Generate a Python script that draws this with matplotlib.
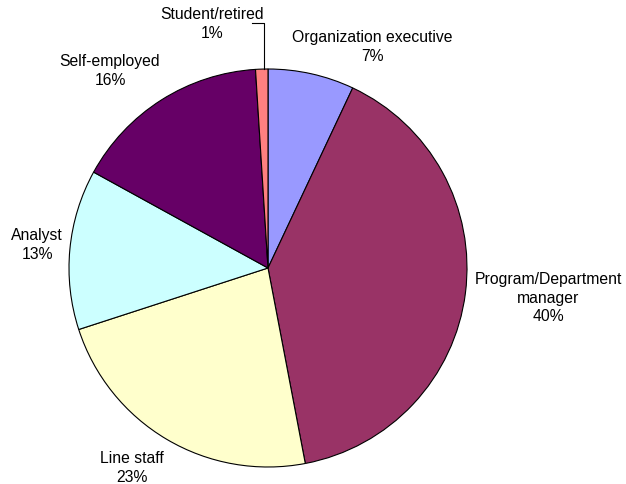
import matplotlib.pyplot as plt

# Respondent roles, clockwise from 12 o'clock
roles = ["Organization executive", "Program/Department\nmanager", "Line staff",
         "Analyst", "Self-employed", "Student/retired"]
shares = [7, 40, 23, 13, 16, 1]
colors = ["#9999FF", "#993366", "#FFFFCC", "#CCFFFF", "#660066", "#FF8080"]

# label anchor points in pixel space (x, y from top)
label_pos = [(372, 47), (548, 298), (132, 468), (37, 245), (110, 71), (212, 24)]

W, H = 626, 485
fig = plt.figure(figsize=(W / 100, H / 100), dpi=100)
ax = fig.add_axes([0, 0, 1, 1])
ax.set_xlim(0, W)
ax.set_ylim(0, H)
ax.set_aspect("equal")
ax.axis("off")

cx, cy, r = 268, H - 269, 199
ax.pie(shares, colors=colors, startangle=90, counterclock=False,
       center=(cx, cy), radius=r, frame=True,
       wedgeprops=dict(edgecolor="black", linewidth=0.8))
ax.set_xlim(0, W)
ax.set_ylim(0, H)
ax.axis("off")

plt.rcParams["font.family"] = ["Liberation Sans", "DejaVu Sans"]
for name, val, (x, y) in zip(roles, shares, label_pos):
    ax.text(x, H - y, f"{name}\n{val}%", ha="center", va="center",
            fontsize=11.3, linespacing=1.3, family=["Liberation Sans", "DejaVu Sans"])

# leader line for the thin student/retired wedge
ax.plot([252, 264, 264], [H - 24, H - 24, H - 70], color="black", lw=0.8)

fig.savefig("out.png", dpi=100)
